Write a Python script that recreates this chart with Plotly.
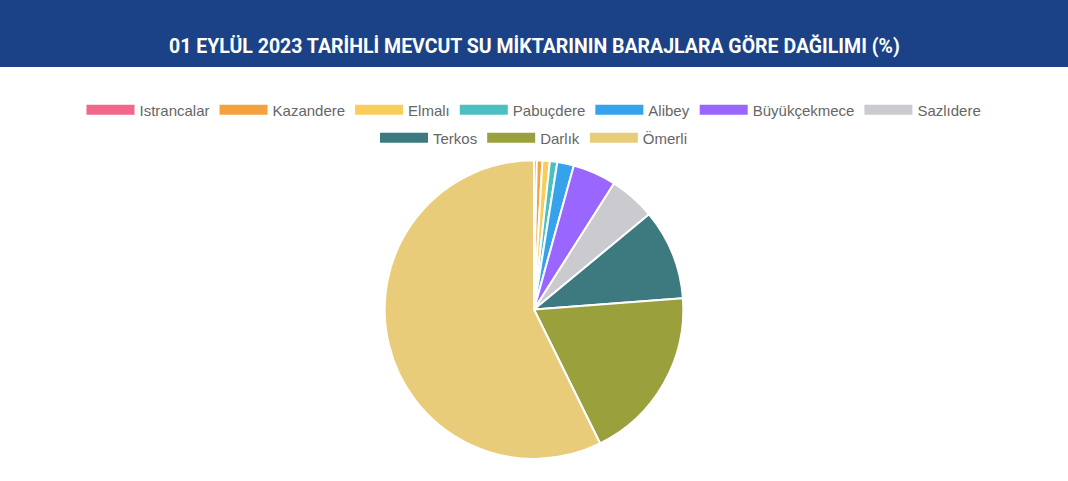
import plotly.graph_objects as go

#Dam Names And Their Share (%)
dams = ["Istrancalar", "Kazandere", "Elmalı", "Pabuçdere", "Alibey",
	"Büyükçekmece", "Sazlıdere", "Terkos", "Darlık", "Ömerli"]
shares = [0.3, 0.6, 0.8, 0.8, 1.8, 4.7, 5.0, 9.8, 18.9, 57.3]
colors = ["#f2668b", "#f4a140", "#f9cd5b", "#4cc0c0", "#36a2eb",
	"#9966ff", "#cbcbcf", "#3d7a80", "#99a03c", "#e8cc7a"]

#How Many Dams Go On The First Legend Row
first_row = 7

title_text = "01 EYLÜL 2023 TARİHLİ MEVCUT SU MİKTARININ BARAJLARA GÖRE DAĞILIMI (%)"

W, H = 1068, 481

#Create The Pie (its own legend is replaced by the rows below)
pie = go.Pie(labels=dams, values=shares, sort=False,
	direction="clockwise", rotation=0,
	marker=dict(colors=colors, line=dict(color="white", width=2)),
	textinfo="none", hoverinfo="label+percent", showlegend=False,
	domain=dict(x=[0.28, 0.72], y=[0.046, 0.667]))

fig = go.Figure(data=[pie])

#Legend Entries, Wide Boxes Like The Original
for i in range(0, len(dams)):
	fig.add_trace(go.Scatter(x=[None], y=[None], mode="lines",
		name=dams[i], line=dict(color=colors[i], width=11),
		legend="legend" if i < first_row else "legend2",
		hoverinfo="skip"))

#Blue Title Band
fig.add_shape(type="rect", xref="paper", yref="paper",
	x0=-0.2, x1=1.2, y0=1 - 67 / H, y1=1.05,
	fillcolor="#1b4287", line=dict(width=0), layer="below")

fig.add_annotation(text="<b>" + title_text + "</b>", xref="paper", yref="paper",
	x=0.5, y=1 - 32 / H, showarrow=False,
	font=dict(family="Roboto", size=19.5, color="white"))

legend_font = dict(family="Liberation Sans", size=15, color="#666666")

fig.update_layout(
	width=W, height=H,
	margin=dict(l=0, r=0, t=0, b=0),
	paper_bgcolor="white", plot_bgcolor="white",
	showlegend=True,
	xaxis=dict(visible=False),
	yaxis=dict(visible=False),
	legend=dict(orientation="h", x=0.5, xanchor="center",
		y=1 - 110 / H, yanchor="middle", itemwidth=48,
		font=legend_font),
	legend2=dict(orientation="h", x=0.5, xanchor="center",
		y=1 - 138 / H, yanchor="middle", itemwidth=48,
		font=legend_font),
)

fig.write_html("out.html", config=dict(displayModeBar=False),
	post_script="document.body.style.margin='0px';")
